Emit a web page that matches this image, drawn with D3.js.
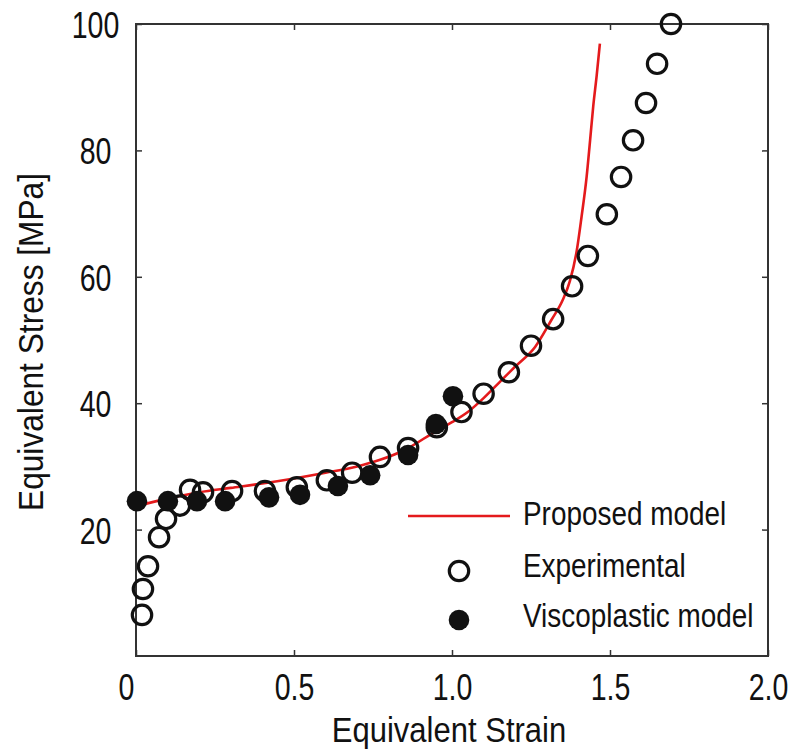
<!DOCTYPE html>
<html>
<head>
<meta charset="utf-8">
<script src="https://cdn.jsdelivr.net/npm/d3@7"></script>
<style>
  html, body { margin: 0; padding: 0; background: #fff; }
  svg { display: block; font-family: "Liberation Sans", Arial, sans-serif; }
</style>
</head>
<body>
<svg id="chart" width="795" height="752"></svg>
<script>
// ---- Data ----
const xTicks = [0, 0.5, 1.0, 1.5, 2.0];
const yTicks = [20, 40, 60, 80, 100];

const expStrain = [0.019, 0.022, 0.038, 0.073, 0.095, 0.139, 0.171, 0.212, 0.304, 0.408, 0.509, 0.604, 0.684, 0.772, 0.861, 0.952, 1.03, 1.10, 1.18, 1.25, 1.32, 1.38, 1.43, 1.49, 1.535, 1.573, 1.614, 1.649, 1.693];
const expStress = [6.5, 10.6, 14.2, 18.8, 21.7, 23.8, 26.3, 25.9, 26.1, 26.1, 26.7, 27.8, 29.0, 31.5, 32.9, 36.2, 38.6, 41.5, 44.9, 49.1, 53.3, 58.5, 63.3, 69.9, 75.8, 81.6, 87.5, 93.7, 100];

const visStrain = [0.003, 0.101, 0.193, 0.282, 0.421, 0.519, 0.639, 0.741, 0.861, 0.949, 1.003];
const visStress = [24.5, 24.5, 24.5, 24.5, 25.1, 25.5, 26.9, 28.6, 31.8, 36.7, 41.1];

const modelStrain = [0, 0.1, 0.2, 0.3, 0.4, 0.5, 0.6, 0.7, 0.77, 0.85, 0.95, 1.0, 1.05, 1.1, 1.15, 1.2, 1.263, 1.315, 1.35, 1.373, 1.395, 1.41, 1.426, 1.437, 1.447, 1.458, 1.468];
const modelStress = [23.7, 24.9, 25.9, 26.6, 27.3, 28.1, 29.0, 30.0, 31.0, 32.6, 35.6, 37.0, 38.6, 40.8, 43.3, 45.8, 48.9, 53.2, 56.3, 59.3, 64.2, 69.5, 75.8, 81.6, 87.0, 91.9, 96.9];

const legendLabels = ["Proposed model", "Experimental", "Viscoplastic model"];

// ---- Layout ----
const L = 136, R = 768, T = 24, B = 656;
const svg = d3.select("#chart");
const x = d3.scaleLinear().domain([0, 2]).range([L, R]);
const y = d3.scaleLinear().domain([0, 100]).range([B, T]);
const RED = "#e41a1c";
const INK = "#111";

// ---- Axes (inward ticks on all four sides) ----
const fmtX = d => d === 0 ? "0" : d3.format(".1f")(d);
const gB = svg.append("g").attr("transform", `translate(0,${B})`)
  .call(d3.axisBottom(x).tickValues(xTicks).tickFormat(fmtX).tickSize(-6).tickSizeOuter(0));
const gL = svg.append("g").attr("transform", `translate(${L},0)`)
  .call(d3.axisLeft(y).tickValues(yTicks).tickSize(-6).tickSizeOuter(0));
const gT = svg.append("g").attr("transform", `translate(0,${T})`)
  .call(d3.axisTop(x).tickValues(xTicks).tickFormat("").tickSize(-6).tickSizeOuter(0));
const gR = svg.append("g").attr("transform", `translate(${R},0)`)
  .call(d3.axisRight(y).tickValues(yTicks).tickFormat("").tickSize(-6).tickSizeOuter(0));

[gB, gL, gT, gR].forEach(g => {
  g.select(".domain").remove();
  g.selectAll(".tick line").attr("stroke", "#333").attr("stroke-width", 1.5);
});

gB.selectAll(".tick text")
  .attr("y", null).attr("dy", null)
  .attr("fill", INK)
  .attr("font-size", 37)
  .attr("text-anchor", "middle")
  .attr("transform", d => `translate(${d === 0 ? -10 : 0},44) scale(0.77,1)`);

gL.selectAll(".tick text")
  .attr("x", null).attr("dy", null)
  .attr("fill", INK)
  .attr("font-size", 37)
  .attr("text-anchor", "middle")
  .attr("transform", "translate(-40.5,13.5) scale(0.77,1)");

// frame
svg.append("rect")
  .attr("x", L).attr("y", T).attr("width", R - L).attr("height", B - T)
  .attr("fill", "none").attr("stroke", "#333").attr("stroke-width", 2);

// ---- Axis titles ----
svg.append("text")
  .attr("transform", `translate(${(L + R) / 2 - 3},742) scale(0.94,1.05)`)
  .attr("text-anchor", "middle").attr("font-size", 33).attr("fill", INK)
  .text("Equivalent Strain");
svg.append("text")
  .attr("transform", `translate(43,${(T + B) / 2 + 2}) rotate(-90) scale(0.96,1.05)`)
  .attr("text-anchor", "middle").attr("font-size", 33).attr("fill", INK)
  .text("Equivalent Stress [MPa]");

// ---- Plot marks ----
const model = modelStrain.map((s, i) => [s, modelStress[i]]);
svg.append("path")
  .datum(model)
  .attr("fill", "none").attr("stroke", RED).attr("stroke-width", 2.6)
  .attr("d", d3.line().x(d => x(d[0])).y(d => y(d[1])).curve(d3.curveMonotoneX));

const exp = expStrain.map((s, i) => [s, expStress[i]]);
svg.append("g").selectAll("circle").data(exp).join("circle")
  .attr("cx", d => x(d[0])).attr("cy", d => y(d[1])).attr("r", 9.7)
  .attr("fill", "none").attr("stroke", INK).attr("stroke-width", 3.2);

const vis = visStrain.map((s, i) => [s, visStress[i]]);
svg.append("g").selectAll("circle").data(vis).join("circle")
  .attr("cx", d => x(d[0])).attr("cy", d => y(d[1])).attr("r", 10.3)
  .attr("fill", INK);

// ---- Legend ----
const lg = svg.append("g");
lg.append("line").attr("x1", 408).attr("x2", 510).attr("y1", 516).attr("y2", 516)
  .attr("stroke", RED).attr("stroke-width", 2.6);
lg.append("circle").attr("cx", 459).attr("cy", 571).attr("r", 9.7)
  .attr("fill", "none").attr("stroke", INK).attr("stroke-width", 3.2);
lg.append("circle").attr("cx", 459).attr("cy", 620).attr("r", 10.3).attr("fill", INK);
const lgY = [525, 577, 627];
legendLabels.forEach((t, i) => {
  lg.append("text")
    .attr("transform", `translate(523,${lgY[i]}) scale(0.93,1.12)`)
    .attr("font-size", 30).attr("fill", INK)
    .text(t);
});
</script>
</body>
</html>
